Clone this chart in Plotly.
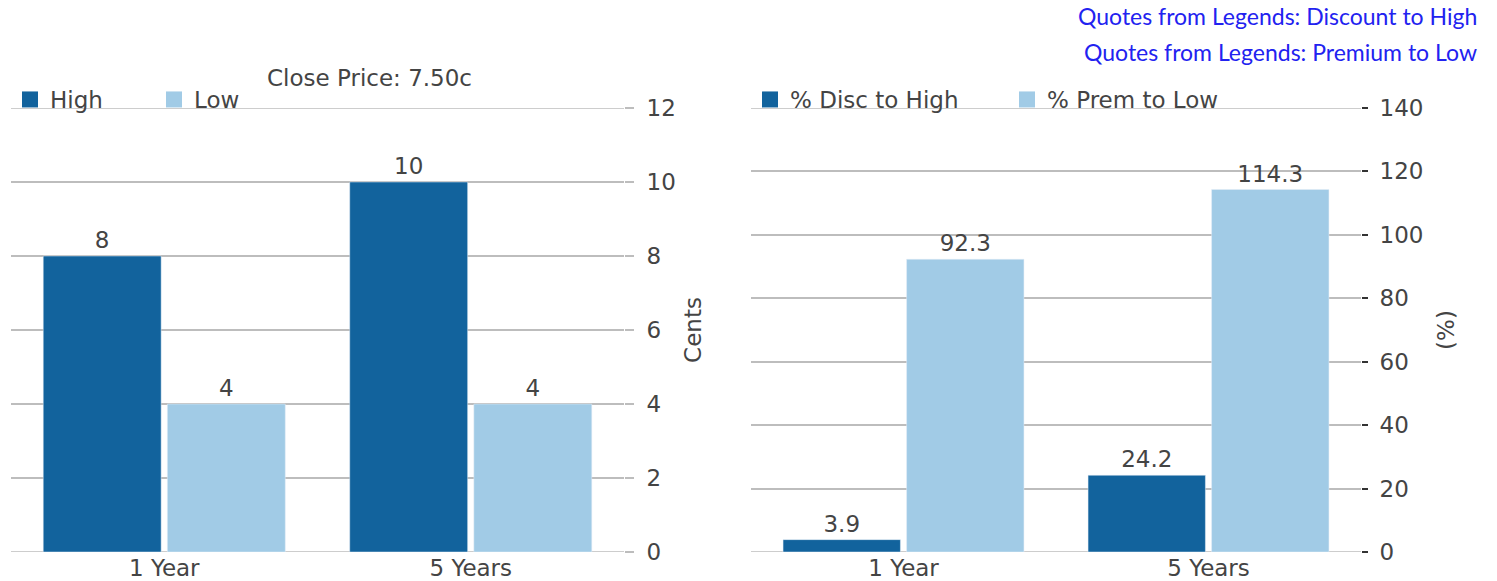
import plotly.graph_objects as go

categories = ["1 Year", "5 Years"]
high = [8, 10]
low = [4, 4]
disc_high = [3.9, 24.2]
prem_low = [92.3, 114.3]
left_ticks = [0, 2, 4, 6, 8, 10, 12]
right_ticks = [0, 20, 40, 60, 80, 100, 120, 140]

W, H = 1497, 581
DARK = "#12639d"
LIGHT = "#a1cbe6"
TXT = "#444444"
GRID = "#bdbdbd"
FONT = "DejaVu Sans, sans-serif"
FS = 23

def px_x(p):
    return p / W

def px_y(p):
    return 1 - p / H

fig = go.Figure()

def add_pair(name, vals, color, fmt, xa, ya, leg, grp):
    fig.add_trace(go.Bar(name=name, x=categories, y=vals, marker_color=color,
                         text=[fmt.format(v) for v in vals], textposition="outside",
                         textfont=dict(size=FS, color=TXT),
                         xaxis=xa, yaxis=ya, showlegend=False, legendgroup=grp,
                         cliponaxis=False))
    fig.add_trace(go.Scatter(name=name, x=[None], y=[None], mode="markers",
                             marker=dict(symbol="square", size=16, color=color),
                             xaxis=xa, yaxis=ya, legend=leg, legendgroup=grp,
                             hoverinfo="skip"))

add_pair("High", high, DARK, "{:g}", "x", "y", "legend", "a")
add_pair("Low", low, LIGHT, "{:g}", "x", "y", "legend", "b")
add_pair("% Disc to High", disc_high, DARK, "{:.1f}", "x2", "y2", "legend2", "c")
add_pair("% Prem to Low", prem_low, LIGHT, "{:.1f}", "x2", "y2", "legend2", "d")

ydom = [px_y(552), px_y(108)]
common_x = dict(showgrid=False, zeroline=False, showline=False, ticks="",
                tickfont=dict(size=FS, color=TXT), fixedrange=True, automargin=False)
fig.update_layout(
    width=W, height=H, autosize=False,
    margin=dict(l=0, r=0, t=0, b=0, autoexpand=False),
    paper_bgcolor="white", plot_bgcolor="white",
    font=dict(family=FONT, size=FS, color=TXT),
    barmode="group", bargap=0.19, bargroupgap=0.05,
    uniformtext=dict(minsize=FS, mode="show"),
    xaxis=dict(domain=[px_x(11), px_x(624)], anchor="y", **common_x),
    xaxis2=dict(domain=[px_x(751), px_x(1361)], anchor="y2", **common_x),
    yaxis=dict(domain=ydom, anchor="x", side="right", range=[0, 12],
               tickvals=left_ticks, showgrid=True, gridcolor=GRID, gridwidth=1.5,
               zeroline=False, showline=False, ticks="outside", ticklen=9,
               tickcolor=GRID, tickwidth=1.5, tickfont=dict(size=FS, color=TXT),
               ticklabelstandoff=8, automargin=False, fixedrange=True,
               title=dict(text="Cents", font=dict(size=FS, color=TXT), standoff=10)),
    yaxis2=dict(domain=ydom, anchor="x2", side="right", range=[0, 140],
                tickvals=right_ticks, showgrid=True, gridcolor=GRID, gridwidth=1.5,
                zeroline=False, showline=False, ticks="outside", ticklen=6,
                tickcolor="#333333", tickwidth=2, tickfont=dict(size=FS, color=TXT),
                ticklabelstandoff=7, automargin=False, fixedrange=True,
                title=dict(text="(%)", font=dict(size=FS, color=TXT), standoff=15)),
    legend=dict(orientation="h", x=px_x(10), y=px_y(121), xanchor="left", yanchor="bottom",
                font=dict(size=FS, color=TXT), bgcolor="rgba(0,0,0,0)",
                itemwidth=30, entrywidthmode="pixels", entrywidth=99),
    legend2=dict(orientation="h", x=px_x(750), y=px_y(121), xanchor="left", yanchor="bottom",
                 font=dict(size=FS, color=TXT), bgcolor="rgba(0,0,0,0)",
                 itemwidth=30, entrywidthmode="pixels", entrywidth=212),
    annotations=[
        dict(text="Close Price: 7.50c", x=px_x(369), y=px_y(78), xref="paper", yref="paper",
             xanchor="center", yanchor="middle", showarrow=False,
             font=dict(size=FS, color=TXT)),
        dict(text="Quotes from Legends: Discount to High", x=px_x(1479), y=px_y(16),
             xref="paper", yref="paper", xanchor="right", yanchor="middle", showarrow=False,
             font=dict(size=23, color="#2222f0", family="Lato, DejaVu Sans, sans-serif")),
        dict(text="Quotes from Legends: Premium to Low", x=px_x(1479), y=px_y(52),
             xref="paper", yref="paper", xanchor="right", yanchor="middle", showarrow=False,
             font=dict(size=23, color="#2222f0", family="Lato, DejaVu Sans, sans-serif")),
    ],
)
# edge gridlines (plotly omits gridlines at the range edges)
for xr, yr, vals in (("x domain", "y", left_ticks), ("x2 domain", "y2", right_ticks)):
    for v in (vals[0], vals[-1]):
        fig.add_shape(type="line", xref=xr, yref=yr, x0=0, x1=1, y0=v, y1=v,
                      line=dict(color=GRID, width=1.5), layer="below")

fig.write_html("out.html")
